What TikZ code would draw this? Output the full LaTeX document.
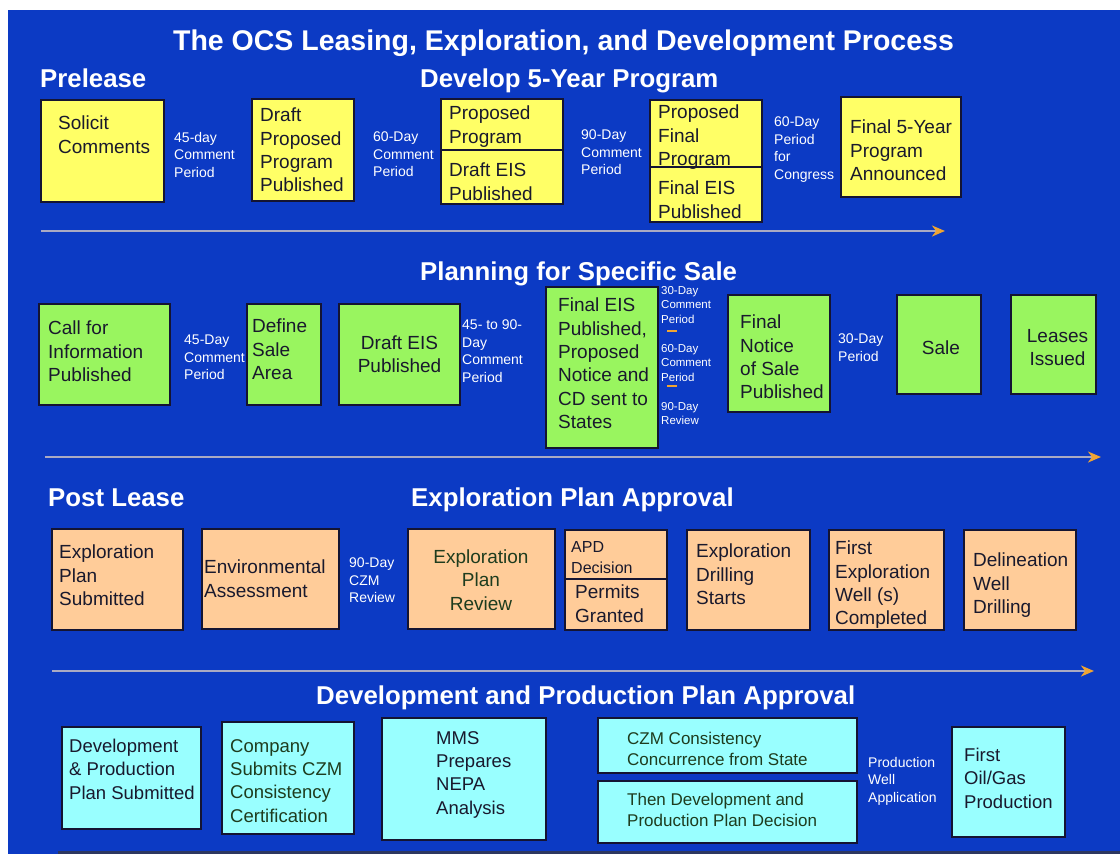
\documentclass[tikz,border=0pt]{standalone}
\usepackage{fontspec}
\setmainfont{Liberation Sans}
\usetikzlibrary{arrows.meta}
\definecolor{bg}{RGB}{12,58,196}
\definecolor{yel}{RGB}{255,255,102}
\definecolor{grn}{RGB}{153,245,95}
\definecolor{pch}{RGB}{255,204,153}
\definecolor{cyn}{RGB}{153,255,255}
\definecolor{bline}{RGB}{20,20,50}
\definecolor{txtc}{RGB}{25,25,45}
\definecolor{txtg}{RGB}{30,60,30}
\definecolor{arrline}{RGB}{170,170,195}
\definecolor{arrtip}{RGB}{240,165,50}
\definecolor{botline}{RGB}{45,55,95}
\newcommand\ocsbox[6]{%
  \pgfmathsetmacro\ocsbw{#5-#3}\pgfmathsetmacro\ocsbh{#6-#4}%
  \node[#1, minimum width=\ocsbw pt, minimum height=\ocsbh pt, anchor=north west] (#2) at (#3,#4) {};}
\begin{document}
\begin{tikzpicture}[x=1pt,y=-1pt,
  box/.style={draw=bline, line width=1.4pt, inner sep=0pt, outer sep=0pt},
  ybox/.style={box, fill=yel},
  gbox/.style={box, fill=grn},
  pbox/.style={box, fill=pch},
  cbox/.style={box, fill=cyn},
  txt/.style={font=\fontsize{19}{23.3}\selectfont, text=txtc, align=left, inner sep=0pt, anchor=north west},
  ctxt/.style={font=\fontsize{19}{23.3}\selectfont, text=txtc, align=center, inner sep=0pt},
  txtb/.style={font=\fontsize{18.5}{23.3}\selectfont, text=txtc, align=left, inner sep=0pt, anchor=north west},
  txtm/.style={font=\fontsize{17}{20.5}\selectfont, text=txtg, align=left, inner sep=0pt, anchor=north west},
  txts/.style={font=\fontsize{16}{21}\selectfont, text=txtc, align=left, inner sep=0pt, anchor=north west},
  lab/.style={font=\fontsize{14}{17.5}\selectfont, text=white, align=left, inner sep=0pt, anchor=north west},
  slab/.style={font=\fontsize{11.5}{14.5}\selectfont, text=white, align=left, inner sep=0pt, anchor=north west},
  hdr/.style={font=\bfseries\fontsize{25.8}{30}\selectfont, text=white, inner sep=0pt, anchor=base west},
  ttl/.style={font=\bfseries\fontsize{28.5}{32}\selectfont, text=white, inner sep=0pt, anchor=base},
  flow/.style={draw=arrline, line width=2.6pt, -{Stealth[color=arrtip, fill=arrtip, length=13pt, width=11pt, inset=4pt]}},
  dashmark/.style={draw=arrtip, line width=1.5pt}
]
\useasboundingbox (0,0) rectangle (1120,854);
\fill[white] (0,0) rectangle (1120,854);
\fill[bg] (8,10) rectangle (1120,854);

% title and headers
\node[ttl] (title) at (563.5,50) {The OCS Leasing, Exploration, and Development Process};
\node[hdr] (hpre) at (40,87) {Prelease};
\node[hdr] (hdev) at (420,87) {Develop 5-Year Program};
\node[hdr] (hplan) at (420,280) {Planning for Specific Sale};
\node[hdr] (hpost) at (48,506) {Post Lease};
\node[hdr] (hexp) at (411,506) {Exploration Plan Approval};
\node[hdr] (hdp) at (316,704) {Development and Production Plan Approval};

% ---------- row 1 ----------
\ocsbox{ybox}{b1}{41}{100}{164}{202}
\ocsbox{ybox}{b2}{252}{99}{354}{201}
\ocsbox{ybox}{b3a}{441}{99}{563}{150}
\ocsbox{ybox}{b3b}{441}{150}{563}{204}
\ocsbox{ybox}{b4a}{650}{100}{762}{167}
\ocsbox{ybox}{b4b}{650}{167}{762}{222}
\ocsbox{ybox}{b5}{841}{97}{961}{197}
\node[txt] (t1) at (58,116) {Solicit\\Comments};
\node[txt] (t2) at (260,108) {Draft\\Proposed\\Program\\Published};
\node[txt] (t3a) at (449,106) {Proposed\\Program};
\node[txt] (t3b) at (449,163) {Draft EIS\\Published};
\node[txt] (t4a) at (658,105) {Proposed\\Final\\Program};
\node[txt] (t4b) at (658,181) {Final EIS\\Published};
\node[txt] (t5) at (850,120) {Final 5-Year\\Program\\Announced};
\node[lab] (l1) at (174,132) {45-day\\Comment\\Period};
\node[lab] (l2) at (373,132) {60-Day\\Comment\\Period};
\node[lab] (l3) at (581,130) {90-Day\\Comment\\Period};
\node[lab] (l4) at (774,117) {60-Day\\Period\\for\\Congress};
\coordinate (a1s) at (41,231);
\coordinate (a1e) at (945,231);
\draw[flow] (a1s) -- (a1e);

% ---------- row 2 ----------
\ocsbox{gbox}{c1}{39}{304}{170}{405}
\ocsbox{gbox}{c2}{247}{304}{321}{405}
\ocsbox{gbox}{c3}{339}{304}{460}{405}
\ocsbox{gbox}{c4}{546}{287}{658}{448}
\ocsbox{gbox}{c5}{728}{295}{830}{412}
\ocsbox{gbox}{c6}{897}{295}{981}{394}
\ocsbox{gbox}{c7}{1011}{295}{1096}{394}
\node[txt] (u1) at (48,321) {Call for\\Information\\Published};
\node[txt] (u2) at (252,319) {Define\\Sale\\Area};
\node[ctxt] (u3) at (c3.center) {Draft EIS\\Published};
\node[txt] (u4) at (558,298) {Final EIS\\Published,\\Proposed\\Notice and\\CD sent to\\States};
\node[txt] (u5) at (740,315) {Final\\Notice\\of Sale\\Published};
\node[ctxt] (u6) at ([shift={(2,3)}]c6.center) {Sale};
\node[ctxt] (u7) at ([shift={(4,3)}]c7.center) {Leases\\Issued};
\node[lab] (m1) at (184,335) {45-Day\\Comment\\Period};
\node[lab] (m2) at (462,320) {45- to 90-\\Day\\Comment\\Period};
\node[slab] (m3) at (661,286) {30-Day\\Comment\\Period};
\node[slab] (m4) at (661,344) {60-Day\\Comment\\Period};
\node[slab] (m5) at (661,402) {90-Day\\Review};
\node[lab] (m6) at (838,334) {30-Day\\Period};
\coordinate (d1s) at (667,331); \coordinate (d1e) at (677,331);
\coordinate (d2s) at (667,386); \coordinate (d2e) at (677,386);
\draw[dashmark] (d1s) -- (d1e);
\draw[dashmark] (d2s) -- (d2e);
\coordinate (a2s) at (45,457);
\coordinate (a2e) at (1101,457);
\draw[flow] (a2s) -- (a2e);

% ---------- row 3 ----------
\ocsbox{pbox}{d1}{52}{529}{183}{630}
\ocsbox{pbox}{d2}{202}{529}{339}{629}
\ocsbox{pbox}{d3}{408}{529}{555}{629}
\ocsbox{pbox}{d4a}{565}{530}{667}{579}
\ocsbox{pbox}{d4b}{565}{579}{667}{630}
\ocsbox{pbox}{d5}{687}{530}{810}{630}
\ocsbox{pbox}{d6}{829}{530}{944}{630}
\ocsbox{pbox}{d7}{964}{530}{1076}{630}
\node[txt] (v1) at (59,545) {Exploration\\Plan\\Submitted};
\node[txt] (v2) at (204,560) {Environmental\\Assessment};
\node[ctxt, text=txtg] (v3) at (481,580) {Exploration\\Plan\\Review};
\node[txts] (v4a) at (571,541) {APD\\Decision};
\node[txt] (v4b) at (575,585) {Permits\\Granted};
\node[txt] (v5) at (696,544) {Exploration\\Drilling\\Starts};
\node[txt] (v6) at (835,541) {First\\Exploration\\Well (s)\\Completed};
\node[txt] (v7) at (973,553) {Delineation\\Well\\Drilling};
\node[lab] (n1) at (349,558) {90-Day\\CZM\\Review};
\coordinate (a3s) at (52,671);
\coordinate (a3e) at (1094,671);
\draw[flow] (a3s) -- (a3e);

% ---------- row 4 ----------
\ocsbox{cbox}{e1}{62}{727}{201}{829}
\ocsbox{cbox}{e2}{222}{722}{354}{834}
\ocsbox{cbox}{e3}{382}{718}{546}{840}
\ocsbox{cbox}{e4a}{598}{718}{857}{773}
\ocsbox{cbox}{e4b}{598}{781}{857}{843}
\ocsbox{cbox}{e5}{952}{727}{1065}{837}
\node[txtb] (w1) at (69,739) {Development\\\& Production\\Plan Submitted};
\node[txtb, text=txtg] (w2) at (230,739) {Company\\Submits CZM\\Consistency\\Certification};
\node[txtb] (w3) at (436,731) {MMS\\Prepares\\NEPA\\Analysis};
\node[txtm] (w4a) at (627,732) {CZM Consistency\\Concurrence from State};
\node[txtm] (w4b) at (627,793) {Then Development and\\Production Plan Decision};
\node[txtb] (w5) at (964,748) {First\\Oil/Gas\\Production};
\node[lab] (o1) at (868,757) {Production\\Well\\Application};
\coordinate (a4s) at (58,852.5);
\coordinate (a4e) at (1120,852.5);
\draw[draw=botline, line width=3pt] (a4s) -- (a4e);
\end{tikzpicture}
\end{document}
